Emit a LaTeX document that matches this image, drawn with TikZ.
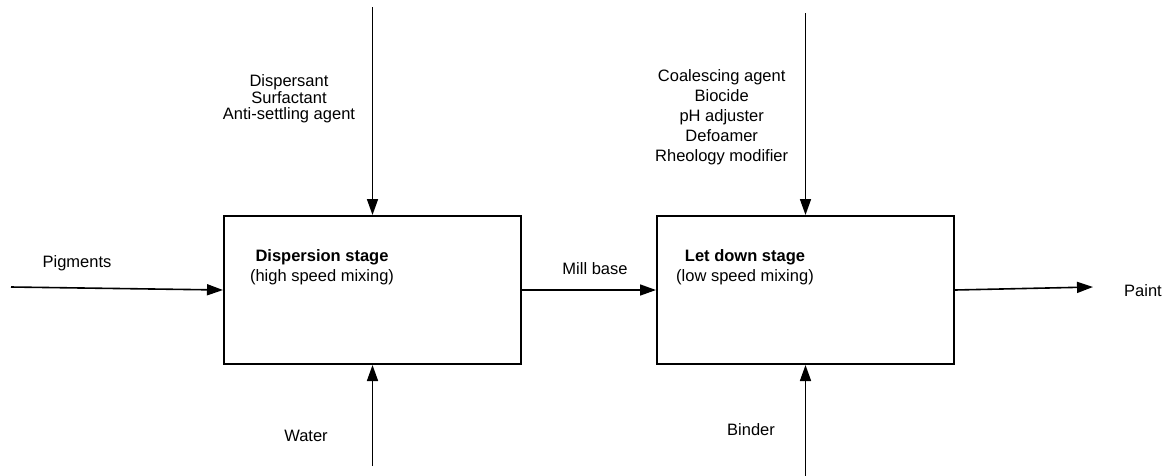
\documentclass[tikz,border=0pt]{standalone}
\usepackage{fontspec}
\setmainfont{Liberation Sans}
\usetikzlibrary{arrows.meta}
\tikzset{
  stagebox/.style={draw=black, line width=2pt, minimum width=297pt, minimum height=148pt, inner sep=0pt},
  flow/.style={draw=black, line width=1.6pt, -{Triangle[length=16pt,width=11pt]}},
  lbl/.style={inner sep=0pt, align=center, font=\fontsize{16.5}{16.7}\selectfont},
  lblwide/.style={inner sep=0pt, align=center, font=\fontsize{16.5}{20}\selectfont}
}
\begin{document}
\begin{tikzpicture}[x=1pt,y=-1pt]
\useasboundingbox (0,0) rectangle (1172,475);
% boxes
\node[stagebox] (box1) at (372.5,290) {};
\node[stagebox] (box2) at (805.5,290) {};
% box texts
\node[lblwide] (t1) at (322,267) {\textbf{Dispersion stage}\\(high speed mixing)};
\node[lblwide] (t2) at (745,267) {\textbf{Let down stage}\\(low speed mixing)};
% free ends
\coordinate (top1) at (372.5,7);
\coordinate (top2) at (805.5,13);
\coordinate (bot1) at (372.5,466);
\coordinate (bot2) at (805.5,476);
\coordinate (pin) at (11,287);
\coordinate (pout) at (1093,287);
% labels
\node[lbl] (ladd1) at (289,99) {Dispersant\\Surfactant\\Anti-settling agent};
\node[lblwide] (ladd2) at (721.7,117) {Coalescing agent\\Biocide\\pH adjuster\\Defoamer\\Rheology modifier};
\node[lbl] (lpig) at (77,263) {Pigments};
\node[lbl] (lmill) at (595,269) {Mill base};
\node[lbl] (lwater) at (306,436) {Water};
\node[lbl] (lbinder) at (751,430) {Binder};
\node[lbl] (lpaint) at (1143,291) {Paint};
% connectors
\draw[flow] (top1) -- (box1.north);
\draw[flow] (top2) -- (box2.north);
\draw[flow] (bot1) -- (box1.south);
\draw[flow] (bot2) -- (box2.south);
\draw[flow] (pin) -- (box1.west);
\draw[flow] (box1.east) -- (box2.west);
\draw[flow] (box2.east) -- (pout);
\end{tikzpicture}
\end{document}
